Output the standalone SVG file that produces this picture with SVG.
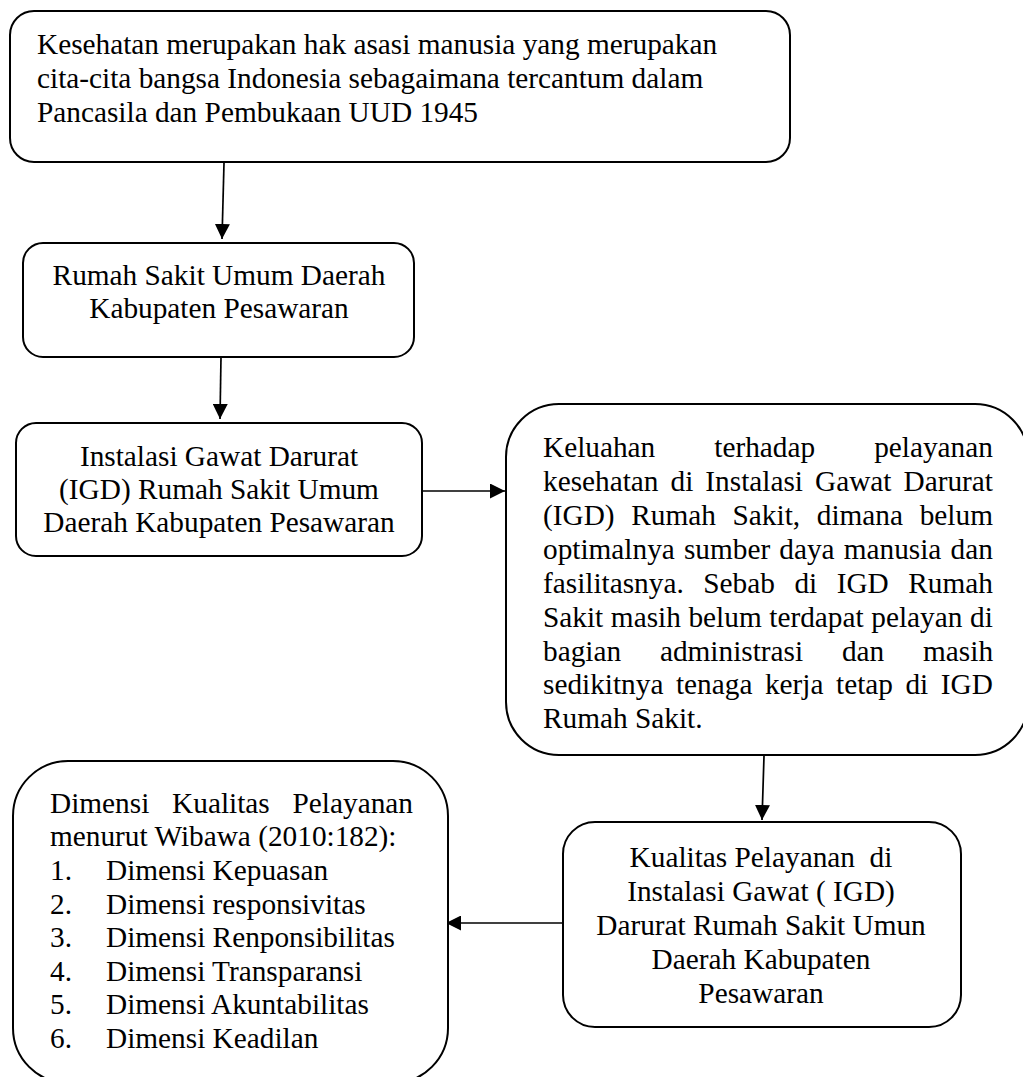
<svg xmlns="http://www.w3.org/2000/svg" width="1023" height="1077" viewBox="0 0 1023 1077">
<defs>
<style>
.box{fill:#fff;stroke:#000;stroke-width:2}
.t{font-family:"Liberation Serif","Times New Roman",serif;font-size:29.3px;fill:#000}
.c{text-anchor:middle}
.e{text-anchor:end}
.con{stroke:#000;stroke-width:1.7;fill:none;marker-end:url(#ah)}
</style>
<marker id="ah" viewBox="0 0 10 10" refX="10" refY="5" markerWidth="15" markerHeight="15" markerUnits="userSpaceOnUse" orient="auto">
<path d="M0,0 L10,5 L0,10 z" fill="#000"/>
</marker>
</defs>
<rect width="1023" height="1077" fill="#fff"/>

<g id="connectors">
<line class="con" x1="224" y1="163" x2="222" y2="239"/>
<line class="con" x1="221" y1="357" x2="220" y2="419"/>
<line class="con" x1="423" y1="491" x2="505" y2="491"/>
<line class="con" x1="764" y1="756" x2="762" y2="820"/>
<line class="con" x1="562" y1="923" x2="446" y2="923"/>
</g>

<g id="node1">
<rect class="box" x="10" y="11" width="780" height="151" rx="24"/>
<text class="t" x="37" y="54">Kesehatan merupakan hak asasi manusia yang merupakan</text>
<text class="t" x="37" y="88">cita-cita bangsa Indonesia sebagaimana tercantum dalam</text>
<text class="t" x="37" y="122">Pancasila dan Pembukaan UUD 1945</text>
</g>

<g id="node2">
<rect class="box" x="23" y="243" width="391" height="114" rx="20"/>
<text class="t c" x="219" y="285">Rumah Sakit Umum Daerah</text>
<text class="t c" x="219" y="318">Kabupaten Pesawaran</text>
</g>

<g id="node3">
<rect class="box" x="16" y="423" width="406" height="133" rx="20"/>
<text class="t c" x="219" y="466">Instalasi Gawat Darurat</text>
<text class="t c" x="219" y="499">(IGD) Rumah Sakit Umum</text>
<text class="t c" x="219" y="532">Daerah Kabupaten Pesawaran</text>
</g>

<g id="node4">
<rect class="box" x="506" y="404" width="522" height="351" rx="53"/>
<text class="t" x="543" y="457" word-spacing="51.7">Keluahan terhadap pelayanan</text>
<text class="t" x="543" y="491" word-spacing="4.7">kesehatan di Instalasi Gawat Darurat</text>
<text class="t" x="543" y="525" word-spacing="9.35">(IGD) Rumah Sakit, dimana belum</text>
<text class="t" x="543" y="559" word-spacing="1.8">optimalnya sumber daya manusia dan</text>
<text class="t" x="543" y="593" word-spacing="12.2">fasilitasnya. Sebab di IGD Rumah</text>
<text class="t" x="543" y="627" word-spacing="0.3">Sakit masih belum terdapat pelayan di</text>
<text class="t" x="543" y="661" word-spacing="31.5">bagian administrasi dan masih</text>
<text class="t" x="543" y="694" word-spacing="5.2">sedikitnya tenaga kerja tetap di IGD</text>
<text class="t" x="543" y="728">Rumah Sakit.</text>
</g>

<g id="node5">
<rect class="box" x="563" y="822" width="398" height="205" rx="32"/>
<text class="t c" x="761" y="867" xml:space="preserve">Kualitas Pelayanan  di</text>
<text class="t c" x="761" y="901">Instalasi Gawat ( IGD)</text>
<text class="t c" x="761" y="935">Darurat Rumah Sakit Umun</text>
<text class="t c" x="761" y="969">Daerah Kabupaten</text>
<text class="t c" x="761" y="1003">Pesawaran</text>
</g>

<g id="node6">
<rect class="box" x="13" y="761" width="435" height="322" rx="55"/>
<text class="t" x="50" y="813" word-spacing="15.5">Dimensi Kualitas Pelayanan</text>
<text class="t" x="50" y="846">menurut Wibawa (2010:182):</text>
<text class="t" x="50" y="880">1.</text><text class="t" x="106" y="880">Dimensi Kepuasan</text>
<text class="t" x="50" y="914">2.</text><text class="t" x="106" y="914">Dimensi responsivitas</text>
<text class="t" x="50" y="947">3.</text><text class="t" x="106" y="947">Dimensi Renponsibilitas</text>
<text class="t" x="50" y="981">4.</text><text class="t" x="106" y="981">Dimensi Transparansi</text>
<text class="t" x="50" y="1014">5.</text><text class="t" x="106" y="1014">Dimensi Akuntabilitas</text>
<text class="t" x="50" y="1048">6.</text><text class="t" x="106" y="1048">Dimensi Keadilan</text>
</g>
</svg>
